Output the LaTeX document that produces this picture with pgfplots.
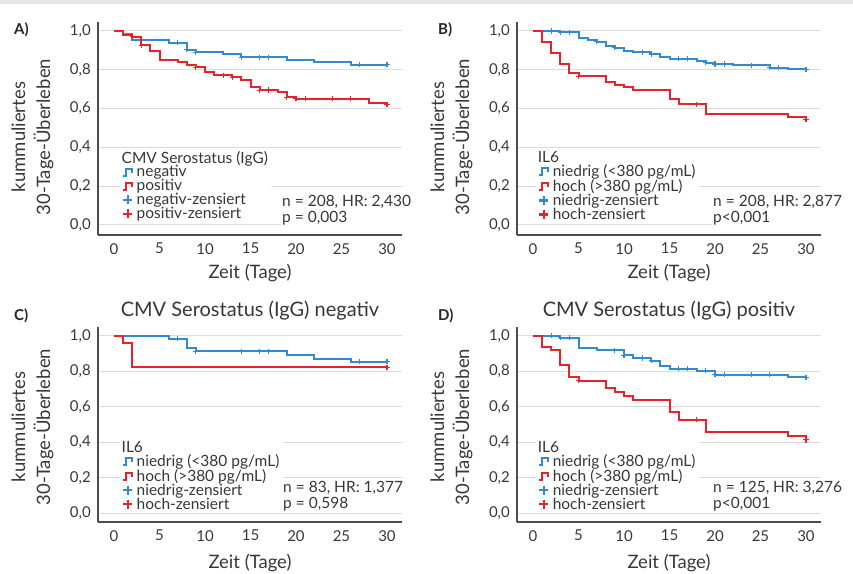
\documentclass[border=0pt]{standalone}
\usepackage{fontspec}
\setmainfont{Lato}
\usepackage{pgfplots}
\pgfplotsset{compat=1.18}
\definecolor{kmblue}{RGB}{52,138,207}
\definecolor{kmred}{RGB}{232,33,43}
\definecolor{txt}{RGB}{55,55,55}
\newcommand\lst{\rule[-3.7pt]{0pt}{14.6pt}}
\pgfplotsset{
  km/.style={
    scale only axis, width=304pt,
    xmin=-1.76, xmax=31.65,
    xtick={0,5,10,15,20,25,30},
    ytick={0,0.2,0.4,0.6,0.8,1},
    axis x line*=bottom, axis y line*=left,
    axis line style={-, draw=black!70, line width=1.3pt},
    major tick length=0pt,
    ymajorgrids, grid style={draw=black!14, line width=0.9pt},
    tick label style={font=\fontsize{15}{17}\selectfont, text=txt},
    /pgf/number format/assume math mode=true,
    yticklabel style={/pgf/number format/fixed, /pgf/number format/fixed zerofill, /pgf/number format/precision=1, /pgf/number format/use comma, inner sep=0pt, xshift=-7pt},
    xticklabel style={inner sep=0pt, yshift=-8pt},
    label style={font=\fontsize{18.5}{25}\selectfont, text=txt},
    ylabel={kummuliertes\\30-Tage-Überleben},
    ylabel style={align=center, anchor=center, rotate=0},
    xlabel={Zeit (Tage)},
    xlabel style={anchor=center},
    title style={font=\fontsize{20}{22}\selectfont, text=txt, anchor=base, at={(axis description cs:0.5,1)}, yshift=5pt},
    legend cell align=left,
    legend style={anchor=north west, draw=none, fill=white, inner xsep=2pt, inner ysep=1pt,
      font=\fontsize{15.5}{17}\selectfont, text=txt, row sep=1.1pt,
      nodes={inner xsep=1.4pt, inner ysep=0pt},
      /tikz/every odd column/.append style={column sep=2pt}},
  },
  kmtop/.style={km, height=213pt, ymin=-0.052, ymax=1.046,
    ylabel style={at={(axis description cs:-0.2155,0.46)}},
    xlabel style={at={(axis description cs:0.5,-0.178)}}},
  kmbot/.style={km, height=195pt, ymin=-0.05, ymax=1.05,
    ylabel style={at={(axis description cs:-0.2155,0.487)}},
    xlabel style={at={(axis description cs:0.5,-0.21)}}},
  bstep/.style={const plot, kmblue, line width=2pt, forget plot},
  rstep/.style={const plot, kmred, line width=2pt, forget plot},
  bcens/.style={only marks, mark=+, mark size=2.6pt, kmblue, line width=1.1pt, forget plot},
  rcens/.style={only marks, mark=+, mark size=2.6pt, kmred, line width=1.1pt, forget plot},
  bleg/.style={legend image code/.code={\draw[kmblue, line width=2pt] (0pt,-3.5pt) -- (2.4pt,-3.5pt) -- (2.4pt,3pt) -- (9pt,3pt) -- (9pt,-1pt);}},
  rleg/.style={legend image code/.code={\draw[kmred, line width=2pt] (0pt,-3.5pt) -- (2.4pt,-3.5pt) -- (2.4pt,3pt) -- (9pt,3pt) -- (9pt,-1pt);}},
  bcleg/.style={legend image code/.code={\draw[kmblue, line width=2.2pt] (0pt,0pt) -- (9pt,0pt) (4.5pt,-4.5pt) -- (4.5pt,4.5pt);}},
  rcleg/.style={legend image code/.code={\draw[kmred, line width=2.2pt] (0pt,0pt) -- (9pt,0pt) (4.5pt,-4.5pt) -- (4.5pt,4.5pt);}},
}
\begin{document}
\begin{tikzpicture}
\useasboundingbox (0pt,0pt) rectangle (853pt,-573pt);
\fill[black!10] (0pt,0pt) rectangle (853pt,-4pt);

% ---------------- A ----------------
\begin{axis}[kmtop, at={(98pt,-235pt)}, anchor=south west,
  legend style={at={(axis description cs:0.072,0.400)}}]
\addplot[bstep] coordinates {(0,1) (1,0.985) (2,0.952) (6,0.940) (8,0.903) (9,0.890) (12,0.879) (14,0.865) (19,0.852) (22,0.840) (26,0.826) (30,0.826)};
\addplot[rstep] coordinates {(0,1) (1,0.978) (2,0.969) (3,0.926) (4,0.895) (5,0.848) (7,0.841) (8,0.826) (9,0.812) (10,0.788) (11,0.772) (13,0.762) (14,0.745) (15,0.709) (16,0.695) (18,0.686) (19,0.659) (20,0.650) (28,0.628) (30,0.620)};
\addplot[bcens] coordinates {(7,0.940) (8,0.903) (9,0.890) (14,0.865) (16,0.865) (17,0.865) (27,0.826) (30,0.826)};
\addplot[rcens] coordinates {(2,0.969) (3,0.926) (9,0.812) (12,0.772) (13,0.762) (16,0.695) (17,0.695) (19,0.659) (20,0.650) (21,0.650) (24,0.650) (26,0.650) (30,0.620)};
\addlegendimage{empty legend}\addlegendentry{\hspace*{-15pt}\lst CMV Serostatus (IgG)}
\addlegendimage{bleg}\addlegendentry{\lst negativ}
\addlegendimage{rleg}\addlegendentry{\lst positiv}
\addlegendimage{bcleg}\addlegendentry{\lst negativ-zensiert}
\addlegendimage{rcleg}\addlegendentry{\lst positiv-zensiert}
\end{axis}

% ---------------- B ----------------
\begin{axis}[kmtop, at={(517pt,-235pt)}, anchor=south west,
  legend style={at={(axis description cs:0.0625,0.400)}}]
\addplot[bstep] coordinates {(0,1) (3,0.993) (5,0.962) (6,0.955) (7,0.945) (8,0.924) (9,0.914) (10,0.897) (11,0.890) (13,0.881) (14,0.866) (15,0.857) (18,0.847) (19,0.836) (20,0.829) (22,0.822) (26,0.810) (28,0.802) (30,0.802)};
\addplot[rstep] coordinates {(0,1) (1,0.941) (2,0.884) (3,0.828) (4,0.784) (5,0.767) (8,0.738) (9,0.722) (10,0.710) (11,0.695) (15,0.648) (16,0.621) (19,0.574) (28,0.557) (30,0.545)};
\addplot[bcens] coordinates {(2,1) (3,0.993) (4,0.993) (7,0.945) (9,0.914) (12,0.890) (13,0.881) (16,0.857) (17,0.857) (19,0.836) (20,0.829) (21,0.829) (24,0.822) (26,0.810) (27,0.810) (30,0.802)};
\addplot[rcens] coordinates {(5,0.767) (18,0.621) (30,0.545)};
\addlegendimage{empty legend}\addlegendentry{\hspace*{-15pt}\lst IL6}
\addlegendimage{bleg}\addlegendentry{\lst niedrig (<380 pg/mL)}
\addlegendimage{rleg}\addlegendentry{\lst hoch (>380 pg/mL)}
\addlegendimage{bcleg}\addlegendentry{\lst niedrig-zensiert}
\addlegendimage{rcleg}\addlegendentry{\lst hoch-zensiert}
\end{axis}

% ---------------- C ----------------
\begin{axis}[kmbot, at={(98pt,-522pt)}, anchor=south west,
  title={CMV Serostatus (IgG) negativ},
  legend style={at={(axis description cs:0.072,0.422)}}]
\addplot[bstep] coordinates {(0,1) (6,0.985) (8,0.932) (9,0.912) (19,0.893) (22,0.872) (26,0.854) (30,0.854)};
\addplot[rstep] coordinates {(0,1) (1,0.957) (2,0.822) (30,0.822)};
\addplot[bcens] coordinates {(7,0.985) (9,0.912) (14,0.912) (16,0.912) (17,0.912) (27,0.854) (30,0.854)};
\addplot[rcens] coordinates {(30,0.822)};
\addlegendimage{empty legend}\addlegendentry{\hspace*{-15pt}\lst IL6}
\addlegendimage{bleg}\addlegendentry{\lst niedrig (<380 pg/mL)}
\addlegendimage{rleg}\addlegendentry{\lst hoch (>380 pg/mL)}
\addlegendimage{bcleg}\addlegendentry{\lst niedrig-zensiert}
\addlegendimage{rcleg}\addlegendentry{\lst hoch-zensiert}
\end{axis}

% ---------------- D ----------------
\begin{axis}[kmbot, at={(517pt,-522pt)}, anchor=south west,
  title={CMV Serostatus (IgG) positiv},
  legend style={at={(axis description cs:0.0625,0.422)}}]
\addplot[bstep] coordinates {(0,1) (3,0.989) (5,0.930) (7,0.919) (10,0.890) (11,0.875) (13,0.860) (14,0.830) (15,0.814) (18,0.803) (20,0.782) (28,0.767) (30,0.767)};
\addplot[rstep] coordinates {(0,1) (1,0.938) (2,0.920) (3,0.833) (4,0.767) (5,0.748) (8,0.706) (9,0.682) (10,0.659) (11,0.638) (15,0.572) (16,0.527) (19,0.455) (28,0.436) (30,0.413)};
\addplot[bcens] coordinates {(2,1) (3,0.989) (4,0.989) (9,0.919) (10,0.890) (12,0.875) (13,0.860) (16,0.814) (17,0.814) (19,0.803) (20,0.782) (21,0.782) (24,0.782) (26,0.782) (30,0.767)};
\addplot[rcens] coordinates {(5,0.748) (18,0.527) (30,0.413)};
\addlegendimage{empty legend}\addlegendentry{\hspace*{-15pt}\lst IL6}
\addlegendimage{bleg}\addlegendentry{\lst niedrig (<380 pg/mL)}
\addlegendimage{rleg}\addlegendentry{\lst hoch (>380 pg/mL)}
\addlegendimage{bcleg}\addlegendentry{\lst niedrig-zensiert}
\addlegendimage{rcleg}\addlegendentry{\lst hoch-zensiert}
\end{axis}

% annotations
\begin{scope}[every node/.style={anchor=north west, align=left, fill=white, inner sep=1pt, text=txt, font=\fontsize{15.5}{16}\selectfont}]
\node at (281pt,-194pt) {n = 208, HR: 2,430\\p = 0,003};
\node at (712pt,-194pt) {n = 208, HR: 2,877\\p<0,001};
\node at (282pt,-480pt) {n = 83, HR: 1,377\\p = 0,598};
\node at (712pt,-480pt) {n = 125, HR: 3,276\\p<0,001};
\end{scope}
\begin{scope}[every node/.style={anchor=base west, inner sep=0pt, text=black!85, font=\fontsize{15}{17}\selectfont\bfseries}]
\node at (14pt,-34pt) {A)};
\node at (438pt,-34pt) {B)};
\node at (14pt,-320pt) {C)};
\node at (438pt,-320pt) {D)};
\end{scope}
\end{tikzpicture}
\end{document}
